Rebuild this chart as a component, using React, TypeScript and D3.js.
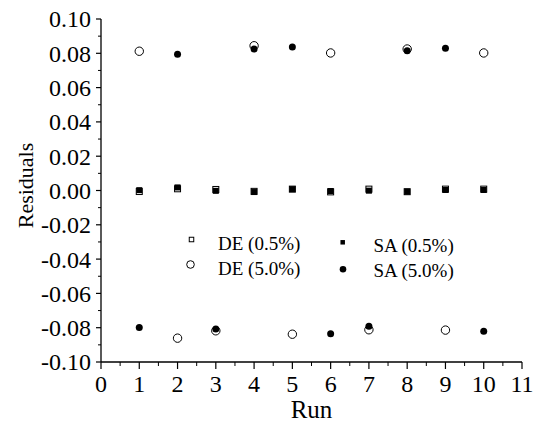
import React from 'react';
import * as d3 from 'd3';

const runs = [1, 2, 3, 4, 5, 6, 7, 8, 9, 10];
const de05 = [-0.0006, 0.001, 0.0006, -0.0005, 0.0008, -0.0008, 0.0008, -0.0007, 0.0008, 0.0008];
const sa05 = [0.0002, 0.0018, -0.0002, -0.0009, 0.0008, -0.0003, -0.0001, -0.0007, 0.0003, 0.0003];
const de50 = [0.0812, -0.0861, -0.0818, 0.0844, -0.0838, 0.0802, -0.0812, 0.0825, -0.0814, 0.0802];
const sa50 = [-0.0799, 0.0794, -0.0808, 0.0825, 0.0837, -0.0835, -0.0792, 0.0815, 0.0829, -0.082];

const xTicks = d3.range(0, 12);
const xMinor = d3.range(0.5, 11, 1);
const yTicks = d3.range(-10, 11, 2).map(d => d / 100);
const yMinor = d3.range(-9, 10, 2).map(d => d / 100);

const FONT = '"Liberation Serif", "Times New Roman", serif';

export default function App() {
  const width = 539;
  const height = 423;
  const margin = { top: 19, right: 17, bottom: 61, left: 101 };

  const x = d3.scaleLinear().domain([0, 11]).range([margin.left, width - margin.right]);
  const y = d3.scaleLinear().domain([-0.1, 0.1]).range([height - margin.bottom, margin.top]);

  const x0 = x(0);
  const y0 = y(-0.1);

  const openSquare = (cx: number, cy: number, s: number, key: string) => (
    <rect key={key} x={cx - s / 2} y={cy - s / 2} width={s} height={s} fill="white" stroke="black" strokeWidth={1} />
  );
  const fillSquare = (cx: number, cy: number, s: number, key: string) => (
    <rect key={key} x={cx - s / 2} y={cy - s / 2} width={s} height={s} fill="black" />
  );
  const openCircle = (cx: number, cy: number, r: number, key: string) => (
    <circle key={key} cx={cx} cy={cy} r={r} fill="white" stroke="black" strokeWidth={1} />
  );
  const fillCircle = (cx: number, cy: number, r: number, key: string) => (
    <circle key={key} cx={cx} cy={cy} r={r} fill="black" />
  );

  return (
    <svg width={width} height={height} style={{ position: 'absolute', left: 0, top: 0, background: 'white' }}
      fontFamily={FONT}>
      {/* axes */}
      <line x1={x0} x2={x0} y1={y(0.1)} y2={y0} stroke="black" strokeWidth={1.3} />
      <line x1={x0} x2={x(11)} y1={y0} y2={y0} stroke="black" strokeWidth={1.3} />

      {yTicks.map(t => (
        <g key={'yt' + t}>
          <line x1={x0 - 5} x2={x0} y1={y(t)} y2={y(t)} stroke="black" strokeWidth={1.2} />
          <text x={x0 - 10} y={y(t)} dy="0.35em" textAnchor="end" fontSize={24}>
            {d3.format('.2f')(t).replace('−', '-')}
          </text>
        </g>
      ))}
      {yMinor.map(t => (
        <line key={'ym' + t} x1={x0 - 3} x2={x0} y1={y(t)} y2={y(t)} stroke="black" strokeWidth={1} />
      ))}
      {xTicks.map(t => (
        <g key={'xt' + t}>
          <line x1={x(t)} x2={x(t)} y1={y0} y2={y0 + 7} stroke="black" strokeWidth={1.2} />
          <text x={x(t)} y={y0 + 30} textAnchor="middle" fontSize={24}>{t}</text>
        </g>
      ))}
      {xMinor.map(t => (
        <line key={'xm' + t} x1={x(t)} x2={x(t)} y1={y0} y2={y0 + 4} stroke="black" strokeWidth={1} />
      ))}

      <text x={(x0 + x(11)) / 2} y={418} textAnchor="middle" fontSize={25}>Run</text>
      <text transform={`translate(33,${y(0) - 5}) rotate(-90)`} textAnchor="middle" fontSize={22}>Residuals</text>

      {/* data */}
      {runs.map((r, i) => openSquare(x(r), y(de05[i]), 6, 'de05' + r))}
      {runs.map((r, i) => fillSquare(x(r), y(sa05[i]), 6, 'sa05' + r))}
      {runs.map((r, i) => openCircle(x(r), y(de50[i]), 4.2, 'de50' + r))}
      {runs.map((r, i) => fillCircle(x(r), y(sa50[i]), 3.5, 'sa50' + r))}

      {/* legend */}
      <g fontSize={19}>
        {openSquare(191.5, 239.5, 4.5, 'l1')}
        <text x={218} y={249.5}>DE (0.5%)</text>
        {openCircle(190.5, 264.5, 3.8, 'l2')}
        <text x={218} y={274.5}>DE (5.0%)</text>
        {fillSquare(342.7, 242.3, 4.5, 'l3')}
        <text x={373.5} y={252}>SA (0.5%)</text>
        {fillCircle(343, 269.3, 3.3, 'l4')}
        <text x={373.5} y={277}>SA (5.0%)</text>
      </g>
    </svg>
  );
}
